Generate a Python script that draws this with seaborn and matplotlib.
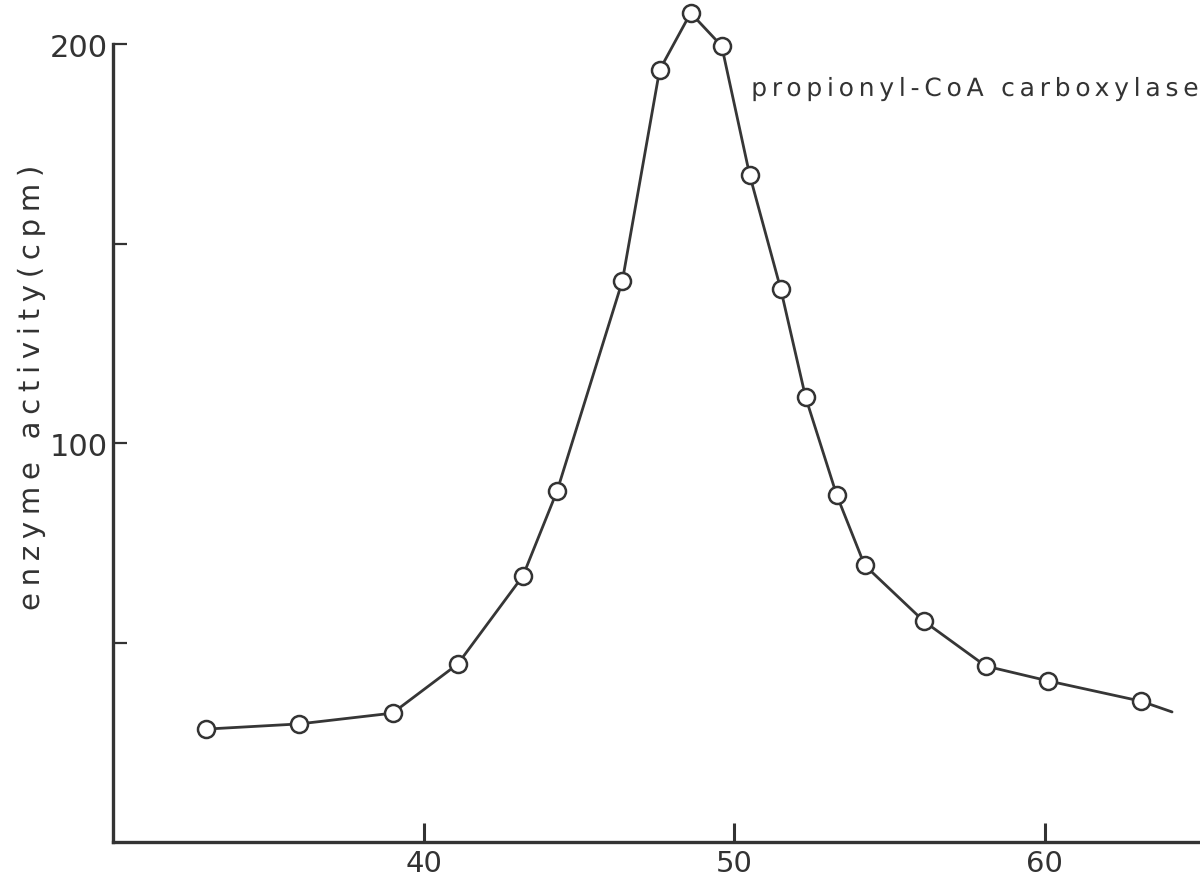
import numpy as np
import matplotlib
matplotlib.use("Agg")
import matplotlib.pyplot as plt
import seaborn as sns
from matplotlib.path import Path
from matplotlib.textpath import TextToPath
from matplotlib.patheffects import AbstractPathEffect
from matplotlib.font_manager import FontProperties

# Elution profile: fraction number vs. enzyme activity
fraction = [33.0, 36.0, 39.0, 41.1, 43.2, 44.3, 46.4, 47.6, 48.6, 49.6,
            50.5, 51.5, 52.3, 53.3, 54.2, 56.1, 58.1, 60.1, 63.1]
activity = [28.3, 29.6, 32.3, 44.6, 66.7, 88.0, 140.6, 193.5, 207.8, 199.5,
            167.2, 138.6, 111.5, 87.0, 69.4, 55.4, 44.1, 40.4, 35.3]
# the drawn curve runs on a little past the last measured fraction
curve_fraction = fraction + [64.1]
curve_activity = activity + [32.6]

x_ticks = [40, 50, 60]
x_tick_labels = ["40", "50", "60"]
y_ticks = [50, 100, 150, 200]
y_tick_labels = ["", "100", "", "200"]
y_label = "enzyme activity(cpm)"
peak_label = "propionyl-CoA carboxylase"

INK = "#333333"
W, H = 1200, 895


class LetterSpacing(AbstractPathEffect):
    """Draw a single-line text with extra space (in em) between glyphs."""

    def __init__(self, text, prop, spacing):
        super().__init__()
        t2p = TextToPath()
        self._counts = [int(np.sum(np.asarray(t2p.get_text_path(prop, ch)[1]) == Path.MOVETO))
                        for ch in text]
        self._shift = spacing * t2p.FONT_SCALE

    def draw_path(self, renderer, gc, tpath, affine, rgbFace=None):
        verts = np.array(tpath.vertices, dtype=float)
        codes = tpath.codes
        if codes is not None and len(verts):
            starts = np.flatnonzero(np.asarray(codes) == Path.MOVETO)
            if len(starts) == sum(self._counts):
                char_of_contour = np.repeat(np.arange(len(self._counts)), self._counts)
                contour = np.searchsorted(starts, np.arange(len(verts)), side="right") - 1
                contour = np.clip(contour, 0, len(starts) - 1)
                verts[:, 0] += char_of_contour[contour] * self._shift
                tpath = Path(verts, codes)
        renderer.draw_path(gc, tpath, affine, rgbFace)


sns.set_theme(style="ticks")
plt.rcParams["font.family"] = ["DejaVu Sans"]
plt.rcParams["text.color"] = INK
plt.rcParams["xtick.color"] = INK
plt.rcParams["ytick.color"] = INK

fig = plt.figure(figsize=(W / 100, H / 100), dpi=100)
ax = fig.add_axes([113 / W, 52 / H, 1 - 113 / W, 1 - 52 / H])
ax.set_facecolor("white")

sns.lineplot(x=curve_fraction, y=curve_activity, ax=ax, color="#363636",
             linewidth=2.0, sort=False, zorder=2)
sns.scatterplot(x=fraction, y=activity, ax=ax, marker="o", s=150,
                color="white", edgecolor=INK, linewidth=1.8, zorder=3)

ax.set_xlim(30, 65)
ax.set_ylim(0, 211.3)

ax.set_xticks(x_ticks)
ax.set_xticklabels(x_tick_labels)
ax.set_yticks(y_ticks)
ax.set_yticklabels(y_tick_labels)
ax.tick_params(axis="x", direction="in", length=14, width=2.2, pad=5,
               labelsize=21, colors=INK)
ax.tick_params(axis="y", direction="in", length=10, width=1.6, pad=4,
               labelsize=22, colors=INK)

for side in ("top", "right"):
    ax.spines[side].set_visible(False)
for side in ("left", "bottom"):
    ax.spines[side].set_linewidth(2.4)
    ax.spines[side].set_color(INK)
ax.spines["left"].set_bounds(0, 200)

ax.set_xlabel("")
ax.set_ylabel("")

# rotated axis title, spaced out along its length
prop_y = FontProperties(family="DejaVu Sans", size=21)
fig.text(31 / W, (H - 612) / H, y_label, rotation=90, rotation_mode="anchor",
         ha="left", va="center", fontproperties=prop_y, color=INK,
         path_effects=[LetterSpacing(y_label, prop_y, 0.23)])

# label next to the peak
prop_p = FontProperties(family="DejaVu Sans", size=18)
ax.text(50.55, 187.0, peak_label, ha="left", va="baseline",
        fontproperties=prop_p, color=INK,
        path_effects=[LetterSpacing(peak_label, prop_p, 0.19)])

fig.savefig("out.png", dpi=100, facecolor="white")
